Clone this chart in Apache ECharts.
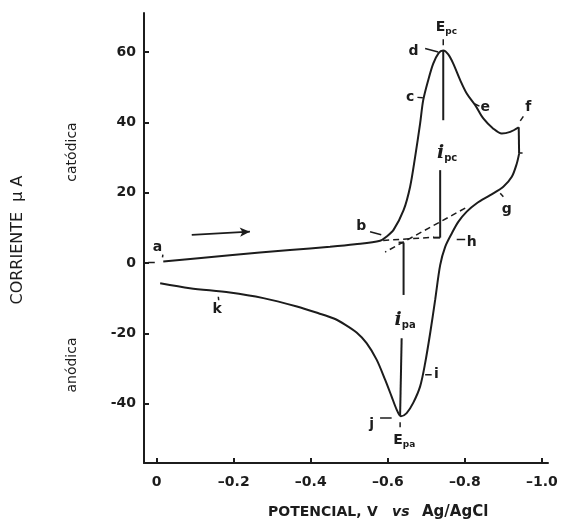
<!DOCTYPE html>
<html><head><meta charset="utf-8">
<script src="https://cdn.jsdelivr.net/npm/echarts@6/dist/echarts.min.js"></script>
<style>html,body{margin:0;padding:0;background:#fff}#c{width:566px;height:522px}</style>
</head><body><div id="c"></div>
<script>
// ---- data: cyclic voltammogram (potential V vs Ag/AgCl, current µA) ----
const fwdE = [-0.017,-0.19,-0.346,-0.45,-0.515,-0.58,-0.597,-0.615,-0.641,-0.658,-0.671,-0.684,-0.692,-0.705,-0.718,-0.732,-0.744,-0.757,-0.770,-0.788,-0.805,-0.827,-0.848,-0.874,-0.896,-0.918,-0.940];
const fwdI = [0.4,2.2,3.7,4.6,5.3,6.3,7.5,9.4,15.0,21.7,30.2,39.7,46.3,52.0,56.7,59.7,60.4,59.3,56.7,52.0,48.2,44.9,41.1,38.2,36.8,37.3,38.6];
const revE = [-0.941,-0.935,-0.922,-0.900,-0.866,-0.831,-0.805,-0.783,-0.766,-0.749,-0.736,-0.723,-0.710,-0.697,-0.684,-0.666,-0.649,-0.634,-0.623,-0.610,-0.593,-0.571,-0.545,-0.519,-0.490,-0.460,-0.420,-0.364,-0.277,-0.190,-0.086,-0.009];
const revI = [31.1,28.3,24.5,21.7,19.3,17.0,14.6,11.7,8.4,4.6,-0.6,-10.5,-20.0,-28.5,-35.1,-39.8,-42.7,-43.6,-41.7,-38.0,-33.2,-27.5,-22.8,-19.8,-17.6,-15.8,-14.3,-12.4,-10.0,-8.4,-7.2,-5.8];
const xTicks = [0,-0.2,-0.4,-0.6,-0.8,-1.0];
const yTicks = [-40,-20,0,20,40,60];

// ---- annotations (in data coordinates) ----
const noteText = ['a','b','c','d','e','f','g','h','i','j','k','{E|E}{s|pc}','{E|E}{s|pa}','{it|i}{s2|pc}','{it|i}{s2|pa}'];
const noteE = [-0.002,-0.531,-0.658,-0.667,-0.853,-0.965,-0.909,-0.818,-0.726,-0.558,-0.157,-0.752,-0.643,-0.754,-0.645];
const noteI = [4.3,10.3,47.1,60.3,44.4,44.4,15.3,5.8,-31.8,-46.0,-13.3,67.0,-50.5,31.3,-16.2];
const leaders = [
  [[0.022,0.1],[0.005,0.1]],
  [[-0.015,1.6],[-0.016,2.4]],
  [[-0.554,8.9],[-0.583,8.0]],
  [[-0.677,47.1],[-0.691,47.0]],
  [[-0.697,61.0],[-0.731,60.0]],
  [[-0.744,61.9],[-0.744,63.6]],
  [[-0.826,45.2],[-0.838,44.6]],
  [[-0.944,40.4],[-0.952,41.7]],
  [[-0.941,31.3],[-0.950,31.3]],
  [[-0.892,19.8],[-0.900,18.8]],
  [[-0.779,6.7],[-0.801,6.7]],
  [[-0.697,-31.8],[-0.714,-31.8]],
  [[-0.580,-44.1],[-0.610,-44.1]],
  [[-0.632,-45.3],[-0.632,-46.7]],
  [[-0.160,-9.6],[-0.161,-10.6]]
];
const peakLines = [
  [[-0.744,60.4],[-0.744,40.6]],
  [[-0.736,26.4],[-0.736,7.2]],
  [[-0.718,7.2],[-0.736,7.2]],
  [[-0.641,5.8],[-0.641,-9.1]],
  [[-0.628,5.8],[-0.641,5.8]],
  [[-0.636,-21.4],[-0.632,-43.4]]
];
const baselines = [
  [[-0.588,6.4],[-0.720,7.3]],
  [[-0.801,15.6],[-0.593,3.1]]
];
const scanArrow = [[-0.091,8.0],[-0.242,8.9]];

const X_MIN = -1.016, X_MAX = 0.033, Y_MIN = -56.9, Y_MAX = 71.1;
const ink = '#1c1c1c';
const FONT = 'DejaVu Sans';

const pairs = (a, b) => a.map((v, i) => [v, b[i]]);
const segSeries = (segs, width, type) => segs.map(s => ({
  type: 'line', data: s, symbol: 'none', silent: true, animation: false,
  lineStyle: { color: ink, width: width, type: type || 'solid' }
}));

const chart = echarts.init(document.getElementById('c'), null, { renderer: 'canvas' });
const fwd = pairs(fwdE, fwdI), rev = pairs(revE, revI);

chart.setOption({
  animation: false,
  backgroundColor: '#fff',
  grid: { left: 144, top: 13, width: 404, height: 450 },
  xAxis: {
    type: 'value', inverse: true, min: X_MIN, max: X_MAX,
    axisLine: { onZero: false, lineStyle: { color: ink, width: 2 } },
    axisTick: { inside: true, length: 5, customValues: xTicks, lineStyle: { color: ink, width: 2 } },
    axisLabel: {
      customValues: xTicks, margin: 12, color: '#1c1c1c', fontFamily: FONT, fontWeight: 'bold', fontSize: 14,
      formatter: v => v === 0 ? '0' : '\u2013' + Math.abs(v).toFixed(1)
    },
    splitLine: { show: false }
  },
  yAxis: {
    type: 'value', min: Y_MIN, max: Y_MAX,
    axisLine: { onZero: false, lineStyle: { color: ink, width: 2 } },
    axisTick: { inside: true, length: 5, customValues: yTicks, lineStyle: { color: ink, width: 2 } },
    axisLabel: { customValues: yTicks, margin: 8, color: '#1c1c1c', fontFamily: FONT, fontWeight: 'bold', fontSize: 14 },
    splitLine: { show: false }
  },
  graphic: [
    { type: 'text', x: 18, y: 240, rotation: Math.PI / 2,
      style: { text: 'CORRIENTE  \u03bc A', font: '16px "DejaVu Sans"', fill: '#1c1c1c', align: 'center', verticalAlign: 'middle' } },
    { type: 'text', x: 72, y: 152, rotation: Math.PI / 2,
      style: { text: 'cat\u00f3dica', font: '14px "DejaVu Sans"', fill: '#1c1c1c', align: 'center', verticalAlign: 'middle' } },
    { type: 'text', x: 72, y: 365, rotation: Math.PI / 2,
      style: { text: 'an\u00f3dica', font: '14px "DejaVu Sans"', fill: '#1c1c1c', align: 'center', verticalAlign: 'middle' } },
    { type: 'text', x: 383, y: 512,
      style: {
        text: '{a|POTENCIAL,}{b|V}{c|vs}{d|Ag/AgCl}', align: 'center', verticalAlign: 'middle', fill: '#1c1c1c',
        rich: {
          a: { width: 99, align: 'left', font: 'bold 14px "DejaVu Sans"', fill: '#1c1c1c' },
          b: { width: 25, align: 'left', font: 'bold 14px "DejaVu Sans"', fill: '#1c1c1c' },
          c: { width: 30, align: 'left', font: 'italic bold 14px "DejaVu Sans"', fill: '#1c1c1c' },
          d: { width: 76, align: 'left', font: 'bold 15px "DejaVu Sans"', fill: '#1c1c1c' }
        }
      } }
  ],
  series: [
    { type: 'line', data: fwd, smooth: 0.3, symbol: 'none', silent: true,
      lineStyle: { color: ink, width: 2 },
      markLine: {
        silent: true, animation: false, label: { show: false },
        lineStyle: { color: ink, width: 1.6, type: 'solid' },
        data: [[{ coord: scanArrow[0], symbol: 'none' }, { coord: scanArrow[1], symbol: 'arrow', symbolSize: [7, 10] }]]
      } },
    { type: 'line', data: [fwd[fwd.length - 1], rev[0]], symbol: 'none', silent: true, lineStyle: { color: ink, width: 2 } },
    { type: 'line', data: rev, smooth: 0.3, symbol: 'none', silent: true, lineStyle: { color: ink, width: 2 } },
    ...segSeries(leaders, 1.5),
    ...segSeries(peakLines, 2),
    ...segSeries(baselines, 1.5, [6, 4]),
    { type: 'scatter', symbolSize: 0, silent: true,
      itemStyle: { opacity: 1, color: ink },
      data: noteText.map((t, i) => ({ value: [noteE[i], noteI[i]], label: { formatter: t } })),
      label: {
        show: true, position: 'inside', color: '#1c1c1c', opacity: 1, textBorderWidth: 0,
        fontFamily: FONT, fontWeight: 'bold', fontSize: 14,
        rich: {
          E: { fontFamily: FONT, fontSize: 14, fontWeight: 'bold', color: '#1c1c1c' },
          s: { fontFamily: FONT, fontSize: 9, fontWeight: 'bold', color: '#1c1c1c', padding: [8, 0, 0, 0] },
          it: { fontFamily: 'DejaVu Serif', fontSize: 19, fontStyle: 'italic', fontWeight: 'bold', color: '#1c1c1c' },
          s2: { fontFamily: FONT, fontSize: 10, fontWeight: 'bold', color: '#1c1c1c', padding: [10, 0, 0, 0] }
        }
      } }
  ]
});
</script>
</body></html>
